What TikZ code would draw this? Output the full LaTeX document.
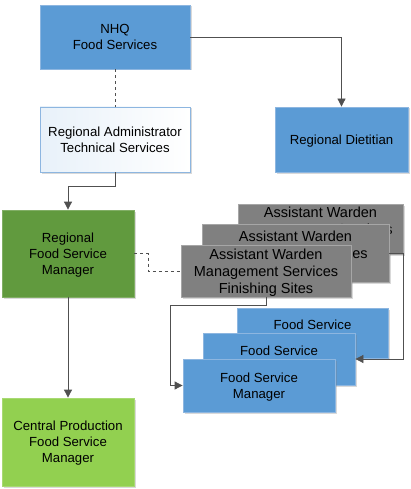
\documentclass[tikz,border=0pt]{standalone}
\usepackage{fontspec}
\setmainfont{Liberation Sans}
\usetikzlibrary{arrows.meta,shadows}

\definecolor{boxblue}{HTML}{5B9BD5}
\definecolor{boxblueline}{HTML}{8DB6E0}
\definecolor{boxgray}{HTML}{808080}
\definecolor{boxgrayline}{HTML}{A6A6A6}
\definecolor{darkgreen}{HTML}{619A3E}
\definecolor{lightgreen}{HTML}{92D050}
\definecolor{linkgray}{HTML}{505050}

\begin{document}
\begin{tikzpicture}[x=1pt, y=-1pt,
        unit/.style={rectangle, inner sep=0pt, align=center, line width=0.8pt, text depth=0pt,
            font=\fontsize{13.2}{16}\selectfont,
            drop shadow={shadow xshift=1.5pt, shadow yshift=-1.5pt, opacity=0.3, fill=black!50}},
        bluebox/.style={unit, fill=boxblue, draw=boxblueline},
        graybox/.style={unit, fill=boxgray, draw=boxgrayline, font=\fontsize{14.5}{17}\selectfont},
        link/.style={draw=linkgray, line width=0.8pt},
        tip/.style={link, -{Triangle[length=8pt, width=8pt]}}]
        \useasboundingbox (0, 0) rectangle (410, 489);
        % top row
        \node[bluebox, minimum width=150, minimum height=64] (nhq) at (115, 37) {NHQ\\Food Services};
        \node[unit, draw=boxblueline, left color=boxblue!14!white, right color=white,
            minimum width=150, minimum height=65] (admin) at (115, 139.5) {Regional Administrator\\Technical Services};
        \node[bluebox, minimum width=133, minimum height=65] (diet) at (341.5, 139.5) {Regional Dietitian};
        % left column
        \node[unit, fill=darkgreen, draw=darkgreen!80!white, minimum width=132, minimum height=87] (region) at (68, 253.5) {Regional\\Food Service\\Manager};
        \node[unit, fill=lightgreen, draw=lightgreen!80!white, minimum width=132, minimum height=88] (central) at (68, 442) {Central Production\\Food Service\\Manager};
        % stacked wardens
        \node[graybox, minimum width=165, minimum height=50] (wardenc) at (320.5, 229) {\rule{0pt}{11pt}Assistant Warden\\Management Services\\Finishing Sites};
        \node[graybox, minimum width=187, minimum height=58] (wardenb) at (295.5, 253) {\rule{0pt}{11pt}Assistant Warden\\Management Services\\Finishing Sites};
        \node[graybox, minimum width=170, minimum height=52] (wardena) at (266, 271) {\rule{0pt}{11pt}Assistant Warden\\Management Services\\Finishing Sites};
        % stacked food service managers
        \node[bluebox, minimum width=151, minimum height=50] (servicec) at (312.5, 333) {Food Service\\Manager};
        \node[bluebox, minimum width=152, minimum height=52] (serviceb) at (279, 359) {Food Service\\Manager};
        \node[bluebox, minimum width=152, minimum height=53] (servicea) at (259, 385.5) {Food Service\\Manager};

        \draw[link, dashed] (nhq.south) -- (admin.north);
        \draw[tip] (nhq.east) -| (diet.north);
        \draw[tip] (admin.south) -- ++(0, 14) -| (region.north);
        \draw[tip] (region.south) -- (central.north);
        \draw[link, dashed] (region.east) -- ++(14, 0) |- (wardena.west);
        \draw[tip] (wardena.south) -- ++(0, 8) -| ([xshift=-12pt]servicea.west) -- (servicea.west);
        \draw[tip] (wardenb.east) -- ++(14, 0) |- (serviceb.east);
    \end{tikzpicture}
\end{document}
